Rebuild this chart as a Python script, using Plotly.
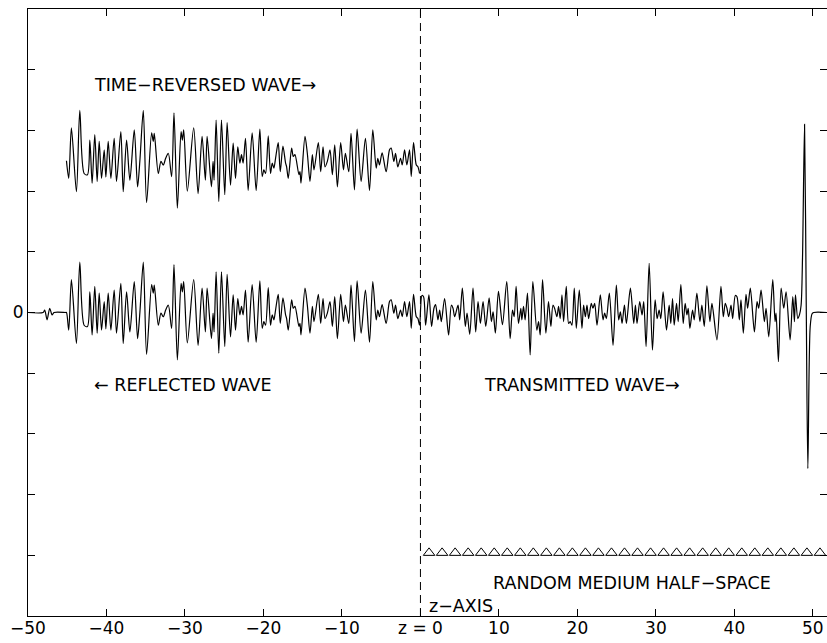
import plotly.graph_objects as go

# ---- data ----
# positions along the z-axis and wave amplitude (reflected + transmitted wave)
wave_z = [
    -50.0, -48.08, -47.87, -47.57, -47.23, -46.93, -46.68, -45.23, -45.10, -44.81,
    -44.47, -43.83, -43.40, -42.85, -42.42, -42.12, -41.83, -41.49, -41.19, -40.93,
    -40.63, -40.29, -40.08, -39.78, -39.44, -39.02, -38.72, -38.17, -37.87, -37.44,
    -37.02, -36.46, -36.04, -35.74, -35.31, -34.89, -34.25, -34.04, -33.91, -33.40,
    -33.06, -32.76, -32.46, -32.12, -31.70, -31.40, -30.97, -30.50, -30.33, -30.16,
    -29.70, -28.89, -28.33, -27.82, -27.40, -27.18, -26.63, -26.42, -26.29, -26.03,
    -25.69, -25.35, -24.93, -24.63, -24.20, -23.86, -23.56, -23.27, -23.01, -22.80,
    -22.59, -22.29, -21.95, -21.44, -20.93, -20.46, -20.16, -19.95, -19.73, -19.39,
    -19.10, -18.88, -18.67, -18.46, -18.12, -17.86, -17.52, -17.18, -17.05, -16.84,
    -16.41, -16.20, -15.99, -15.48, -15.35, -15.22, -14.71, -14.41, -14.07, -13.77,
    -13.56, -13.01, -12.71, -12.41, -12.16, -11.86, -11.52, -11.22, -10.92, -10.58,
    -10.16, -9.81, -9.56, -9.13, -8.84, -8.41, -8.07, -7.56, -7.01, -6.49,
    -6.07, -5.64, -5.43, -5.22, -4.88, -4.37, -3.94, -3.73, -3.39, -3.17,
    -2.88, -2.54, -2.32, -2.02, -1.73, -1.39, -1.17, -0.88, -0.53, -0.32,
    -0.11, 0.19, 0.40, 0.66, 1.08, 1.42, 1.72, 1.93, 2.23, 2.45,
    2.66, 3.08, 3.59, 3.94, 4.15, 4.36, 4.79, 5.00, 5.34, 5.72,
    5.94, 6.28, 6.70, 7.04, 7.34, 7.64, 7.98, 8.32, 8.75, 9.04,
    9.26, 9.55, 9.94, 10.45, 11.00, 11.43, 11.73, 11.94, 12.19, 12.49,
    12.79, 12.92, 13.13, 13.34, 13.64, 13.98, 14.32, 14.83, 15.05, 15.26,
    15.56, 15.98, 16.32, 16.62, 16.88, 17.09, 17.39, 17.60, 17.81, 18.03,
    18.24, 18.58, 18.88, 19.09, 19.30, 19.60, 19.86, 20.24, 20.58, 20.79,
    21.01, 21.22, 21.43, 21.77, 21.98, 22.20, 22.50, 22.92, 23.26, 23.47,
    23.69, 24.07, 24.54, 24.96, 25.26, 25.48, 25.69, 25.99, 26.24, 26.75,
    27.18, 27.39, 27.60, 27.94, 28.24, 28.45, 28.75, 29.14, 29.56, 29.90,
    30.16, 30.41, 30.63, 30.92, 31.35, 31.69, 31.90, 32.12, 32.33, 32.63,
    32.84, 33.18, 33.48, 33.73, 33.95, 34.12, 34.33, 34.67, 34.88, 35.22,
    35.61, 35.86, 36.16, 36.50, 36.88, 37.14, 37.78, 38.29, 38.59, 38.84,
    39.05, 39.27, 39.57, 39.78, 40.12, 40.33, 40.63, 40.84, 41.14, 41.48,
    41.69, 42.03, 42.55, 42.89, 43.10, 43.40, 43.82, 44.04, 44.38, 44.89,
    45.18, 45.31, 45.61, 45.95, 46.29, 46.59, 47.10, 47.44, 47.65, 47.78,
    48.08, 48.29, 48.50, 48.68, 48.94, 49.15, 49.36, 49.66, 49.90, 50.10,
    51.80,
]
wave_amp = [
    0.0, 0.0, 0.04, -0.12, 0.07, -0.04, 0.0, 0.0, 0.0, -0.29,
    0.54, -0.51, 0.83, -0.21, -0.23, 0.34, -0.37, 0.43, -0.34, 0.32,
    -0.29, 0.18, -0.27, 0.32, -0.29, 0.37, -0.34, 0.48, -0.51, 0.34,
    -0.32, 0.51, -0.43, 0.01, 0.83, -0.69, 0.46, 0.32, 0.45, -0.21,
    -0.01, -0.07, 0.04, 0.12, -0.26, 0.79, -0.78, 0.48, 0.34, 0.51,
    -0.50, 0.54, -0.54, 0.40, -0.32, 0.40, -0.43, -0.01, -0.32, 0.67,
    -0.67, 0.67, -0.56, 0.63, -0.40, 0.29, -0.29, 0.23, -0.04, 0.10,
    -0.04, 0.37, -0.49, 0.46, -0.49, 0.52, -0.26, -0.15, -0.21, 0.41,
    -0.21, -0.04, -0.12, 0.04, 0.30, -0.18, 0.24, -0.04, -0.10, -0.29,
    0.21, 0.07, 0.10, -0.23, -0.18, -0.37, 0.40, 0.12, -0.34, 0.10,
    -0.15, 0.30, -0.18, 0.23, -0.10, -0.01, 0.18, -0.23, 0.26, -0.43,
    0.30, -0.15, 0.12, -0.18, 0.45, -0.48, 0.52, -0.34, 0.37, -0.49,
    0.51, -0.12, 0.04, -0.07, 0.13, -0.18, 0.18, 0.21, -0.01, 0.12,
    -0.10, 0.04, -0.07, 0.18, -0.07, 0.18, -0.26, 0.30, -0.07, -0.10,
    -0.21, 0.28, 0.26, -0.21, 0.29, -0.23, 0.07, 0.13, -0.12, 0.04,
    -0.15, 0.23, -0.37, 0.12, 0.07, -0.07, 0.12, -0.12, 0.40, -0.23,
    -0.01, -0.36, 0.40, -0.32, 0.18, -0.18, 0.18, -0.23, 0.24, -0.15,
    0.01, -0.34, 0.35, -0.20, 0.51, -0.43, 0.04, -0.07, 0.43, -0.18,
    0.07, -0.12, 0.10, -0.12, 0.32, -0.70, 0.51, -0.29, -0.15, -0.37,
    0.54, -0.34, 0.18, -0.23, 0.12, 0.07, -0.07, 0.10, -0.10, 0.29,
    -0.15, 0.43, -0.18, -0.15, -0.21, 0.40, -0.26, 0.37, -0.26, 0.12,
    -0.07, 0.12, -0.10, 0.15, 0.07, 0.15, -0.21, 0.29, -0.12, -0.01,
    -0.10, 0.32, -0.54, 0.45, -0.12, 0.01, -0.18, 0.12, -0.18, 0.40,
    -0.18, 0.12, -0.18, 0.18, -0.04, 0.18, -0.56, 0.81, -0.62, 0.21,
    -0.10, 0.04, -0.10, 0.34, -0.29, 0.12, -0.18, 0.23, -0.21, 0.15,
    -0.15, 0.46, -0.18, 0.15, -0.04, 0.07, -0.26, 0.04, -0.12, 0.32,
    -0.15, 0.12, -0.23, 0.44, -0.15, 0.15, -0.45, 0.43, -0.07, 0.15,
    0.07, -0.07, 0.12, -0.10, 0.28, 0.26, -0.12, 0.21, -0.34, 0.30,
    0.07, 0.40, -0.32, 0.18, 0.07, 0.37, -0.15, 0.07, -0.40, 0.54,
    -0.15, -0.01, -0.81, 0.40, 0.07, 0.34, -0.45, 0.26, -0.15, 0.29,
    -0.10, -0.04, 0.12, 0.90, 3.10, 0.20, -2.57, -0.23, -0.02, 0.0,
    0.0,
]

# triangles marking the random medium half-space
medium_z = [1.10, 2.76, 4.42, 6.08, 7.74, 9.40, 11.06, 12.72, 14.38, 16.04,
            17.70, 19.36, 21.02, 22.68, 24.34, 26.00, 27.66, 29.32, 30.98, 32.64,
            34.30, 35.96, 37.62, 39.28, 40.94, 42.60, 44.26, 45.92, 47.58, 49.24,
            50.90]

x_tick_vals = [-50, -40, -30, -20, -10, 0, 10, 20, 30, 40, 50]
x_tick_text = ["\u221250", "\u221240", "\u221230", "\u221220", "\u221210", "z = 0",
               "10", "20", "30", "40", "50"]
y_tick_vals = [-5, -4, -3, -2, -1, 0, 1, 2, 3, 4, 5]
y_tick_text = ["", "", "", "", "", "0", "", "", "", "", ""]

# ---- layout constants ----
TR_OFFSET = 2.5          # vertical offset of the time-reversed trace
TR_START, TR_END = -45.15, 0.0
MEDIUM_LEVEL = -3.96
FONT = "DejaVu Sans, Liberation Sans, Arial"

tr_z = [z for z in wave_z if TR_START <= z <= TR_END]
tr_amp = [a + TR_OFFSET for z, a in zip(wave_z, wave_amp) if TR_START <= z <= TR_END]

fig = go.Figure()
line_style = dict(color="black", width=1.2, shape="spline", smoothing=0.8)
fig.add_trace(go.Scatter(x=wave_z, y=wave_amp, mode="lines", line=line_style,
                         showlegend=False, hoverinfo="skip"))
fig.add_trace(go.Scatter(x=tr_z, y=tr_amp, mode="lines", line=line_style,
                         showlegend=False, hoverinfo="skip"))
fig.add_trace(go.Scatter(x=medium_z, y=[MEDIUM_LEVEL] * len(medium_z), mode="markers",
                         yaxis="y2",
                         marker=dict(symbol="triangle-up-open", size=10,
                                     color="black", line=dict(width=1, color="black")),
                         showlegend=False, hoverinfo="skip"))

fig.add_shape(type="line", xref="x", yref="paper", x0=0, x1=0, y0=0, y1=1,
              line=dict(color="black", width=1, dash="8px,5px"))

ann_font = dict(family=FONT, size=17.5, color="black")
annotations = [
    ("TIME\u2212REVERSED WAVE\u2192", -41.9, 3.75),
    ("\u2190 REFLECTED WAVE", -41.9, -1.19),
    ("TRANSMITTED WAVE\u2192", 7.8, -1.19),
    ("RANDOM MEDIUM HALF\u2212SPACE", 9.0, -4.45),
    ("z\u2212AXIS", 0.8, -4.83),
]
for txt, ax_, ay_ in annotations:
    fig.add_annotation(x=ax_, y=ay_, xref="x", yref="y", text=txt, showarrow=False,
                       xanchor="left", yanchor="middle", font=ann_font)

tick_common = dict(ticks="inside", ticklen=7, tickcolor="black", tickwidth=1,
                   showgrid=False, zeroline=False,
                   tickfont=dict(family=FONT, size=17, color="black"))

fig.update_layout(
    width=827, height=643,
    margin=dict(l=28, r=0, t=9, b=27, pad=0),
    paper_bgcolor="white", plot_bgcolor="white",
    xaxis=dict(range=[-50, 51.8], tickmode="array", tickvals=x_tick_vals,
               ticktext=x_tick_text, showline=True, linecolor="black", linewidth=1,
               mirror="ticks", ticklabelstandoff=-3, **tick_common),
    yaxis=dict(range=[-5, 5], tickmode="array", tickvals=y_tick_vals,
               ticktext=y_tick_text, showline=True, linecolor="black", linewidth=1,
               mirror=False, **tick_common),
    yaxis2=dict(range=[-5, 5], overlaying="y", side="right", tickmode="array",
                tickvals=y_tick_vals, showticklabels=False, showline=False,
                **tick_common),
)

fig.write_html("out.html")
